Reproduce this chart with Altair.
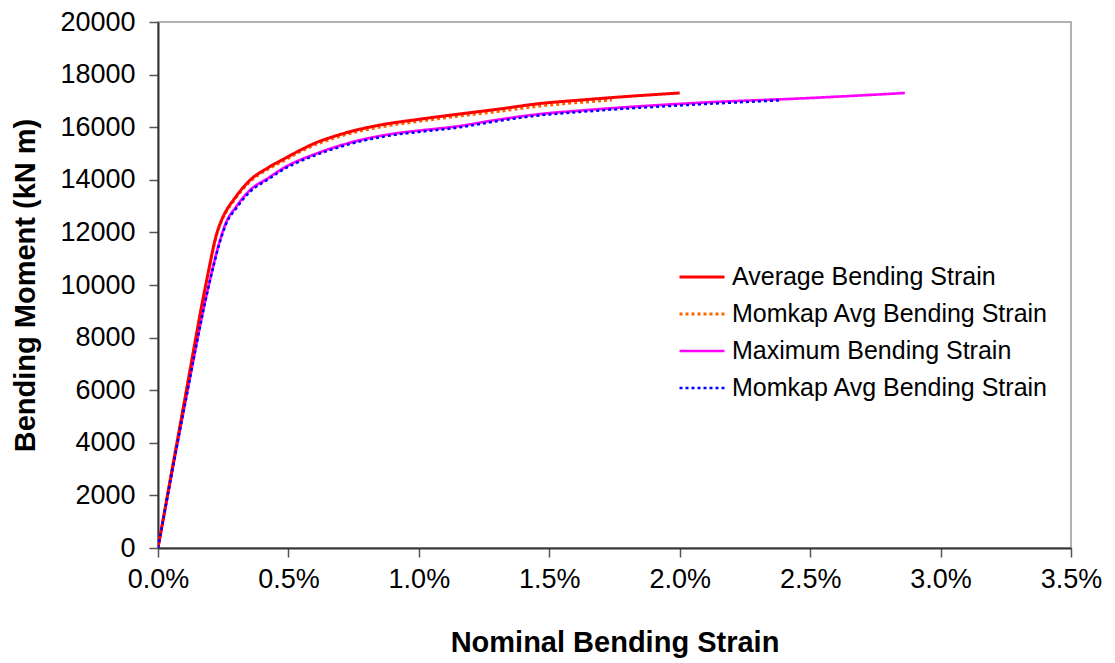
import altair as alt
import pandas as pd

# Series data (strain in %, moment in kN m)
avg_x = [0.0, 0.10, 0.187, 0.225, 0.245, 0.26, 0.289, 0.353, 0.42, 0.48, 0.55, 0.608, 0.659, 0.736, 0.85, 1.0, 1.138, 1.3, 1.464, 1.617, 1.8, 2.0]
avg_y = [0, 5500, 10200, 11950, 12500, 12800, 13230, 13990, 14450, 14780, 15150, 15420, 15600, 15830, 16080, 16300, 16480, 16680, 16900, 17030, 17170, 17300]

mk1_x = [0.0, 0.10, 0.187, 0.225, 0.245, 0.26, 0.289, 0.353, 0.42, 0.48, 0.55, 0.608, 0.659, 0.736, 0.85, 1.0, 1.138, 1.3, 1.464, 1.617, 1.74]
mk1_y = [0, 5500, 10150, 11900, 12450, 12750, 13180, 13930, 14390, 14710, 15090, 15350, 15530, 15760, 16000, 16220, 16400, 16590, 16800, 16940, 17030]

max_x = [0.0, 0.10, 0.199, 0.238, 0.26, 0.30, 0.353, 0.42, 0.48, 0.608, 0.736, 0.9, 1.0, 1.138, 1.3, 1.464, 1.617, 2.077, 2.5, 2.863]
max_y = [0, 5300, 10190, 11710, 12350, 12980, 13610, 14050, 14440, 15000, 15410, 15750, 15870, 16020, 16280, 16500, 16630, 16930, 17110, 17300]

mk2_x = [0.0, 0.10, 0.199, 0.238, 0.26, 0.30, 0.353, 0.42, 0.48, 0.608, 0.736, 0.9, 1.0, 1.138, 1.3, 1.464, 1.617, 2.077, 2.384]
mk2_y = [0, 5300, 10150, 11660, 12300, 12920, 13550, 14000, 14390, 14950, 15360, 15700, 15820, 15970, 16230, 16450, 16580, 16870, 17020]

keys = ["a", "b", "c", "d"]
labels = ["Average Bending Strain", "Momkap Avg Bending Strain", "Maximum Bending Strain", "Momkap Avg Bending Strain"]
colors = ["#FF0000", "#FF6600", "#FF00FF", "#0000FF"]
dashes = [[1, 0], [3, 3], [1, 0], [3, 3]]
widths = [3, 2.5, 1.6, 2.5]

x_ticks = [0, 0.5, 1.0, 1.5, 2.0, 2.5, 3.0, 3.5]
y_ticks = list(range(0, 20001, 2000))

rows = []
for k, xs, ys in zip(keys, [avg_x, mk1_x, max_x, mk2_x], [avg_y, mk1_y, max_y, mk2_y]):
    for i, (xv, yv) in enumerate(zip(xs, ys)):
        rows.append({"key": k, "strain": xv, "moment": yv, "order": i})
df = pd.DataFrame(rows)

label_expr = " : ".join(
    [f"datum.value == '{k}' ? '{l}'" for k, l in zip(keys, labels)]
) + " : ''"

FONT = "Liberation Sans"


def leg():
    return alt.Legend(title=None, orient="none", legendX=520, legendY=231,
                      labelExpr=label_expr, symbolType="stroke",
                      symbolSize=2025, labelFontSize=25, labelFont=FONT,
                      labelColor="black", rowPadding=0, labelOffset=6,
                      padding=0, labelLimit=500)


base = alt.Chart(df).mark_line(clip=True, interpolate="monotone").encode(
    x=alt.X("strain:Q", scale=alt.Scale(domain=[0, 3.5], nice=False),
            axis=alt.Axis(values=x_ticks, labelExpr="format(datum.value, '.1f') + '%'",
                          title="Nominal Bending Strain", grid=False, labelFlush=False)),
    y=alt.Y("moment:Q", scale=alt.Scale(domain=[0, 20000], nice=False),
            axis=alt.Axis(values=y_ticks, format="d", title="Bending Moment (kN m)", grid=False,
                          labelFlush=False)),
    color=alt.Color("key:N", scale=alt.Scale(domain=keys, range=colors), legend=leg()),
    strokeDash=alt.StrokeDash("key:N", scale=alt.Scale(domain=keys, range=dashes), legend=leg()),
    strokeWidth=alt.StrokeWidth("key:N", scale=alt.Scale(domain=keys, range=widths), legend=leg()),
    order="order:Q",
)

under = base.transform_filter(alt.FieldOneOfPredicate(field="key", oneOf=["b", "c"]))
over = base.transform_filter(alt.FieldOneOfPredicate(field="key", oneOf=["a", "d"]))

chart = alt.layer(under, over).properties(
    width=913, height=526,
    autosize=alt.AutoSizeParams(type="none"),
    padding={"left": 150, "top": 14, "right": 36, "bottom": 112},
).configure_view(
    stroke="#999999", strokeWidth=1.5
).configure_axis(
    domainColor="#333333", domainWidth=2, tickColor="#555555", tickSize=9, tickWidth=1.5,
    labelFont=FONT, labelFontSize=27, labelColor="black",
    titleFont=FONT, titleFontSize=29, titleFontWeight="bold", titleColor="black",
).configure_axisX(
    labelPadding=9, titlePadding=36,
).configure_axisY(
    labelPadding=14, titlePadding=19,
)

chart.save("out.html", embed_options={"renderer": "svg", "actions": False})
